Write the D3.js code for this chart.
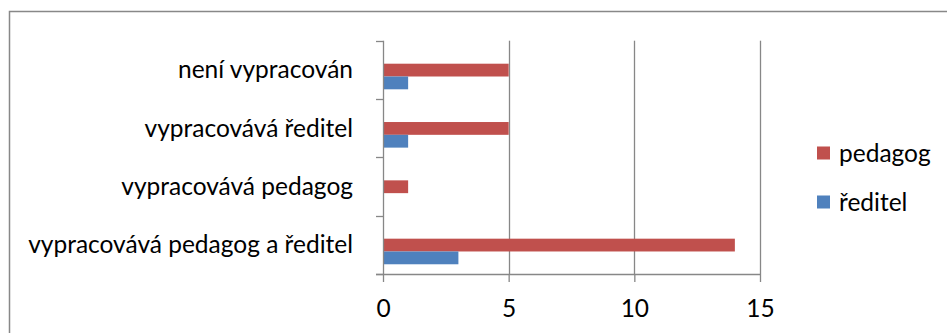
<!DOCTYPE html>
<html>
<head>
<meta charset="utf-8">
<script src="https://cdn.jsdelivr.net/npm/d3@7"></script>
<style>
  html, body { margin: 0; padding: 0; background: #fff; }
  svg { display: block; }
  text { font-family: "Lato", "Open Sans", sans-serif; fill: #000; }
</style>
</head>
<body>
<svg id="chart" width="947" height="333"></svg>
<script>
// Categories, bottom to top as listed on the axis
const categories = [
  "vypracovává pedagog a ředitel",
  "vypracovává pedagog",
  "vypracovává ředitel",
  "není vypracován"
];
const seriesNames = ["pedagog", "ředitel"];
const pedagog = [14, 1, 5, 5];
const reditel = [3, 0, 1, 1];
const xTicks = [0, 5, 10, 15];
const colors = ["#C0504D", "#4F81BD"];

const svg = d3.select("#chart");
const W = 947, H = 333;
const fontSize = 20;

// outer chart frame (runs past the right and bottom edges)
svg.append("rect")
  .attr("x", 9.5).attr("y", 11.5)
  .attr("width", W + 20).attr("height", H + 20)
  .attr("fill", "none").attr("stroke", "#888").attr("stroke-width", 1.5);

const plot = { left: 383, right: 760, top: 40.7, bottom: 274 };

const x = d3.scaleLinear().domain([0, 15]).range([plot.left, plot.right]);
// top category first on screen
const y = d3.scaleBand()
  .domain(categories.slice().reverse())
  .range([plot.top, plot.bottom])
  .paddingInner(0).paddingOuter(0);
const ySub = d3.scaleBand().domain(seriesNames).range([23, 48.6]);

const grid = "#878787";

// vertical gridlines
svg.append("g").selectAll("line")
  .data(xTicks.filter(d => d > 0))
  .join("line")
  .attr("x1", d => Math.round(x(d)) + 0.5).attr("x2", d => Math.round(x(d)) + 0.5)
  .attr("y1", plot.top).attr("y2", plot.bottom)
  .attr("stroke", grid).attr("stroke-width", 1.3);

// bars
const rows = categories.map((c, i) => ({ cat: c, vals: [pedagog[i], reditel[i]] }));
const barG = svg.append("g");
rows.forEach(r => {
  seriesNames.forEach((s, j) => {
    if (r.vals[j] <= 0) return;
    barG.append("rect")
      .attr("x", x(0))
      .attr("y", y(r.cat) + ySub(s))
      .attr("width", x(r.vals[j]) - x(0))
      .attr("height", ySub.bandwidth())
      .attr("fill", colors[j]);
  });
});

// x axis
const xAxis = d3.axisBottom(x).tickValues(xTicks).tickSize(8).tickPadding(18).tickFormat(d3.format("d"));
const gx = svg.append("g").attr("transform", `translate(0,${plot.bottom})`).call(xAxis);
gx.select(".domain").attr("stroke", grid).attr("stroke-width", 1.3).attr("d", `M${plot.left - 7},0.5H${plot.right}`);
gx.selectAll(".tick line").attr("stroke", grid).attr("stroke-width", 1.3);
gx.selectAll("text").attr("font-size", fontSize).attr("font-family", "Lato, 'Open Sans', sans-serif").attr("fill", "#000");

// y axis: tick marks at category boundaries, labels at band centres
const bounds = [plot.top].concat(y.domain().map(c => y(c) + y.bandwidth()));
const gy = svg.append("g");
gy.append("line")
  .attr("x1", plot.left + 0.5).attr("x2", plot.left + 0.5)
  .attr("y1", plot.top).attr("y2", plot.bottom)
  .attr("stroke", grid).attr("stroke-width", 1.3);
gy.selectAll(".b").data(bounds).join("line")
  .attr("x1", plot.left - 7).attr("x2", plot.left)
  .attr("y1", d => Math.round(d) + 0.5).attr("y2", d => Math.round(d) + 0.5)
  .attr("stroke", grid).attr("stroke-width", 1.3);
const labels = gy.selectAll(".lbl").data(categories).join("text")
  .attr("x", 353)
  .attr("y", d => y(d) + y.bandwidth() / 2)
  .attr("dy", "0.35em")
  .attr("text-anchor", "end")
  .attr("font-size", fontSize)
  .text(d => d);

// fit label size so the longest label spans its measured width
const longest = labels.filter(d => d === categories[0]).node().getComputedTextLength();
const fitted = fontSize * 325 / longest;
labels.attr("font-size", fitted);
gx.selectAll("text").attr("font-size", fitted);

// legend
const legend = svg.append("g");
seriesNames.forEach((s, j) => {
  const cy = 153 + j * 49;
  legend.append("rect")
    .attr("x", 817).attr("y", cy - 6.5)
    .attr("width", 13).attr("height", 13)
    .attr("fill", colors[j]);
  legend.append("text")
    .attr("x", 839).attr("y", cy)
    .attr("dy", "0.35em")
    .attr("font-size", fitted)
    .text(s);
});
</script>
</body>
</html>
